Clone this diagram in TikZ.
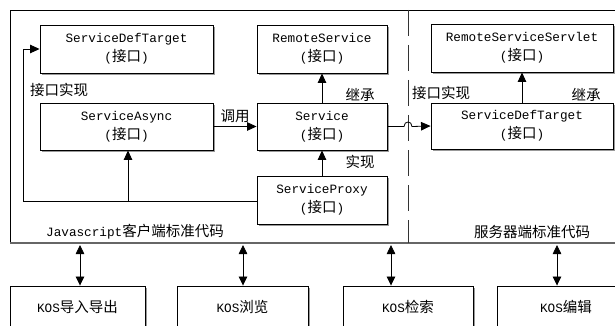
\documentclass[tikz,border=0pt]{standalone}
\usepackage{fontspec}
\setmainfont{Liberation Mono}
\newfontfamily\cjkfont{Noto Sans CJK SC}
\newcommand\zh[1]{{\fontsize{14.5}{19}\selectfont\cjkfont #1}}
\usetikzlibrary{arrows.meta,shadows}
\begin{document}
\begin{tikzpicture}[x=1pt,y=-1pt,
 box/.style={draw, line width=0.9pt, fill=white, align=center, inner sep=0pt,
   font=\fontsize{12.7}{19}\selectfont,
   drop shadow={shadow xshift=1.6pt, shadow yshift=-1.6pt, fill=black!40, opacity=1}},
 lbl/.style={inner sep=0pt, font=\fontsize{12.7}{19}\selectfont},
 arr/.style={-{Triangle[length=9.5pt,width=8.5pt]}, line width=0.8pt},
 darr/.style={{Triangle[length=9pt,width=8.5pt]}-{Triangle[length=9pt,width=8.5pt]}, line width=0.8pt}]
\useasboundingbox (0,0) rectangle (615,326);

% outer frame
\draw[line width=0.9pt] (615,10) -- (10,10) -- (10,243);
\draw[line width=1.6pt, black!60] (10,243) -- (615,243);
\draw[line width=0.8pt, black!80, dash pattern=on 26pt off 9pt] (408,10) -- (408,243);

% boxes
\node[box, minimum width=173pt, minimum height=48pt] (sdt1) at (126.5,49) {ServiceDefTarget\\(\zh{接口})};
\node[box, minimum width=130pt, minimum height=48pt] (rs) at (322,49) {RemoteService\\(\zh{接口})};
\node[box, minimum width=182pt, minimum height=48pt] (rss) at (522,48) {RemoteServiceServlet\\(\zh{接口})};
\node[box, minimum width=173pt, minimum height=47pt] (sa) at (126.5,126.5) {ServiceAsync\\(\zh{接口})};
\node[box, minimum width=130pt, minimum height=47pt] (svc) at (322,126.5) {Service\\(\zh{接口})};
\node[box, minimum width=182pt, minimum height=46pt] (sdt2) at (522,126) {ServiceDefTarget\\(\zh{接口})};
\node[box, minimum width=130pt, minimum height=48pt] (sp) at (322,200) {ServiceProxy\\(\zh{接口})};

% bottom boxes
\node[box, minimum width=135pt, minimum height=42pt] (b1) at (77.5,307) {KOS\zh{导入导出}};
\node[box, minimum width=131pt, minimum height=42pt] (b2) at (242.5,307) {KOS\zh{浏览}};
\node[box, minimum width=130pt, minimum height=42pt] (b3) at (408,307) {KOS\zh{检索}};
\node[box, minimum width=138pt, minimum height=42pt] (b4) at (566,307) {KOS\zh{编辑}};

% labels
\node[lbl] at (59,90) {\zh{接口实现}};
\node[lbl] at (235,116) {\zh{调用}};
\node[lbl] at (360,95) {\zh{继承}};
\node[lbl] at (441,93) {\zh{接口实现}};
\node[lbl] at (586,95) {\zh{继承}};
\node[lbl] at (360,162) {\zh{实现}};
\node[lbl] at (135,232) {Javascript\zh{客户端标准代码}};
\node[lbl] at (532,232) {\zh{服务器端标准代码}};

% connectors
\draw[arr] (sa.east) -- (svc.west);
\draw[arr] (svc.north) -- (rs.south);
\draw[arr] (sp.north) -- (svc.south);
\draw[arr] (sdt2.north) -- (rss.south);
\coordinate (h1) at (404,126.5);
\coordinate (h2) at (412,126.5);
\draw[arr] (svc.east) -- (h1) .. controls (404,120.5) and (412,120.5) .. (h2) -- (sdt2.west);

\coordinate (j) at (128,201);
\coordinate (c1) at (23,201);
\draw[line width=0.8pt] (sp.west |- j) -- (j);
\draw[arr] (j) -- (j |- sa.south);
\draw[arr] (j) -- (c1) |- (sdt1.west);

% double arrows to bottom boxes
\coordinate (t1) at (80,245);
\coordinate (t2) at (243,245);
\coordinate (t3) at (391,245);
\coordinate (t4) at (557,245);
\draw[darr] (t1) -- (t1 |- b1.north);
\draw[darr] (t2) -- (t2 |- b2.north);
\draw[darr] (t3) -- (t3 |- b3.north);
\draw[darr] (t4) -- (t4 |- b4.north);
\end{tikzpicture}
\end{document}
